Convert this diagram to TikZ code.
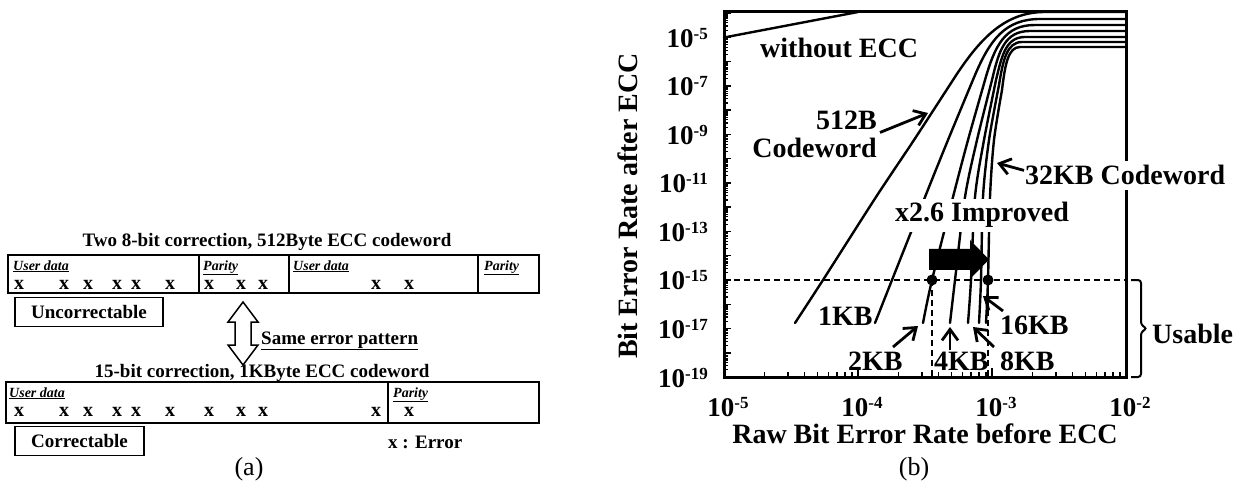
\documentclass[tikz,border=0pt]{standalone}
\usepackage{fontspec}
\setmainfont{Liberation Serif}
\usetikzlibrary{arrows.meta}
% power-of-ten tick label
\newcommand\tenpow[1]{10\raisebox{8pt}{\fontsize{17}{17}\selectfont#1}}
\begin{document}
\begin{tikzpicture}[x=1pt,y=-1pt,
  frame/.style={line width=3pt},
  curve/.style={line width=2.4pt,line join=round,line cap=round},
  lbl/.style={font=\fontsize{28}{30}\selectfont\bfseries,inner sep=0pt},
  ticklbl/.style={font=\fontsize{27}{30}\selectfont\bfseries,inner sep=0pt},
  ptr/.style={line width=2.8pt,-{Straight Barb[length=11pt,width=16pt]}},
  guide/.style={line width=2pt,dash pattern=on 6pt off 4pt},
  txt/.style={font=\fontsize{19}{21}\selectfont\bfseries,inner sep=0pt},
  tag/.style={font=\fontsize{14}{16}\selectfont\bfseries\itshape,inner sep=0pt},
  err/.style={font=\fontsize{20}{22}\selectfont\bfseries,inner sep=0pt},
  cell/.style={line width=2.5pt},
  flag/.style={txt,draw,line width=1.6pt,minimum height=29pt},
  panel/.style={font=\fontsize{26}{28}\selectfont,inner sep=0pt}]
\useasboundingbox (0,0) rectangle (1248,489);

% ---------------- panel (a): codewords ----------------
\node[txt,anchor=base] (t512) at (267,247) {Two 8-bit correction, 512Byte ECC codeword};
\draw[cell] (8,255) rectangle (539,293);
\foreach \x in {199,289,478} \draw[cell] (\x,255) -- (\x,293);
\node[tag,anchor=base west] at (13,270) {\underline{User data}};
\node[tag,anchor=base west] at (203,270) {\underline{Parity}};
\node[tag,anchor=base west] at (293,270) {\underline{User data}};
\node[tag,anchor=base west] at (484,270) {\underline{Parity}};
\foreach \x in {19,64,88,117,136,170,209,241,263,376,409}
  \node[err,anchor=base] at (\x,289) {x};

\node[flag,minimum width=148pt] (unc) at (89,312) {Uncorrectable};

% hollow double arrow
\draw[line width=1.5pt,line join=miter]
  (243,302) -- (258,322) -- (251,322) -- (251,345) -- (258,345) -- (243,365)
  -- (228,345) -- (235,345) -- (235,322) -- (228,322) -- cycle;
\node[txt,anchor=base west] (same) at (261,344) {\underline{Same error pattern}};

\node[txt,anchor=base] (t1k) at (262,377) {15-bit correction, 1KByte ECC codeword};
\draw[line width=2pt] (6,382) rectangle (539,423);
\draw[line width=2pt] (388,382) -- (388,423);
\node[tag,anchor=base west] at (9,397) {\underline{User data}};
\node[tag,anchor=base west] at (393,397) {\underline{Parity}};
\foreach \x in {19,64,88,117,136,170,209,241,263,376,409}
  \node[err,anchor=base] at (\x,416) {x};

\node[flag,minimum width=129pt] (cor) at (79.5,441) {Correctable};
\node[txt,anchor=base west] (key) at (388,448) {x : Error};
\node[panel] (pa) at (249,469) {(a)};

% ---------------- panel (b): UBER vs RBER ----------------
% without ECC: UBER = RBER
\draw[curve] (724,37.5) -- (858,12);
% 512B
\draw[curve] plot[smooth,tension=0.5] coordinates {(795,323) (823,280) (876,197) (914,140) (953,80)}
  .. controls (980,38) and (1005,12) .. (1045,12) -- (1126,12);
% 1KB
\draw[curve] plot[smooth,tension=0.5] coordinates {(875,323) (892,280) (925,197) (948,140) (975,75)}
  .. controls (990,40) and (1005,19) .. (1040,19) -- (1126,19);
% 2KB
\draw[curve] plot[smooth,tension=0.5] coordinates {(923,323) (932,280) (953,197) (968,140) (985,80)}
  .. controls (995,45) and (1005,25) .. (1035,25) -- (1126,25);
% 4KB
\draw[curve] plot[smooth,tension=0.5] coordinates {(950,323) (955,280) (965,197) (977,140) (992,80)}
  .. controls (999,50) and (1005,31) .. (1030,31) -- (1126,31);
% 8KB
\draw[curve] plot[smooth,tension=0.5] coordinates {(968,323) (971,280) (975,197) (984,140) (996,80)}
  .. controls (1002,55) and (1006,37) .. (1025,37) -- (1126,37);
% 16KB
\draw[curve] plot[smooth,tension=0.5] coordinates {(979,323) (981,280) (983,197) (989,140) (999,85)}
  .. controls (1003,60) and (1007,42) .. (1022,42) -- (1126,42);
% 32KB
\draw[curve] plot[smooth,tension=0.5] coordinates {(986,323) (988,280) (990,197) (994,140) (1002,90)}
  .. controls (1005,65) and (1008,47) .. (1020,47) -- (1126,47);

% 1e-15 target level and the two crossing points
\coordinate (g0) at (724,280);
\coordinate (g1) at (1126,280);
\draw[guide] (g0) -- (g1);
\coordinate (p2k) at (932,280);
\coordinate (p16k) at (988,280);
\draw[guide] (p2k) -- (932,377);
\draw[guide] (p16k) -- (988,377);
\fill (p2k) circle (5.5pt);
\fill (p16k) circle (5.5pt);

% improvement arrow
\fill (929,249) -- (970,249) -- (970,240) -- (989,259.5) -- (970,279) -- (970,270) -- (929,270) -- cycle;

% axes frame and ticks
\draw[frame] (724,12) rectangle (1126,377);
\foreach \d in {0,...,14}
  \foreach \k in {2,...,9}
    \draw[line width=1.2pt] (724,{377-(\d+log10(\k))*24.25}) -- ++(4,0);
\foreach \d in {0,...,15}
  \draw[line width=1.5pt] (724,{377-\d*24.25}) -- ++(7,0);
\foreach \d in {0,1,2}
  \foreach \k in {2,...,9}
    \draw[line width=1.5pt] ({724+(\d+log10(\k))*134},377) -- ++(0,-5);
\foreach \d in {0,...,3}
  \draw[line width=1.5pt] ({724+\d*134},377) -- ++(0,-9);

% tick labels
\foreach \d/\t in {-19/0,-17/2,-15/4,-13/6,-11/8,-9/10,-7/12,-5/14}
  \node[ticklbl,anchor=base east] at (708,{387-\t*24.25}) {\tenpow{\d}};
\foreach \d/\t in {-5/0,-4/1,-3/2,-2/3}
  \node[ticklbl,anchor=base] at ({728+\t*134},416) {\tenpow{\d}};

% axis titles
\node[lbl,rotate=90,anchor=base] (ytitle) at (637,206) {Bit Error Rate after ECC};
\node[lbl,anchor=base] (xtitle) at (925,443) {Raw Bit Error Rate before ECC};

% curve labels
\node[lbl,anchor=base west] (lnone) at (760,58) {without ECC};
\node[lbl,anchor=base east] (l512) at (877,130) {512B};
\node[lbl,anchor=base east] (lcw) at (877,158) {Codeword};
\node[lbl,anchor=base west,fill=white,inner sep=5pt] (l32k) at (1020,185) {32KB Codeword};
\node[lbl,anchor=base west,fill=white,inner xsep=0pt,inner ysep=4pt] (limp) at (895,222) {x2.6 Improved};
\node[lbl,anchor=base west] (l1k) at (818,325) {1KB};
\node[lbl,anchor=base west] (l2k) at (848,370) {2KB};
\node[lbl,anchor=base west] (l4k) at (934,370) {4KB};
\node[lbl,anchor=base west] (l8k) at (1000,370) {8KB};
\node[lbl,anchor=base west] (l16k) at (1000,334) {16KB};

\coordinate (c512) at (928,113);
\coordinate (c32k) at (997,163);
\coordinate (c2k) at (918,326);
\coordinate (c4k) at (950,327);
\coordinate (c8k) at (973,327);
\coordinate (c16k) at (983,296);
\draw[ptr] ([xshift=3pt,yshift=-2pt]l512.south east) -- (c512);
\draw[ptr] ([xshift=4pt,yshift=5pt]l32k.west) -- (c32k);
\draw[ptr] (893,347) -- (c2k);
\draw[ptr] (950,350) -- (c4k);
\draw[ptr] (994,347) -- (c8k);
\draw[ptr] (1003,311) -- (c16k);

% usable region bracket
\draw[line width=2pt,rounded corners=3pt] (1131,280) -- (1141,280) -- (1141,325) -- (1147,328.5)
  -- (1141,332) -- (1141,377) -- (1131,377);
\node[lbl,anchor=base west] (lus) at (1152,343) {Usable};

\node[panel] (pb) at (914,469) {(b)};
\end{tikzpicture}
\end{document}
